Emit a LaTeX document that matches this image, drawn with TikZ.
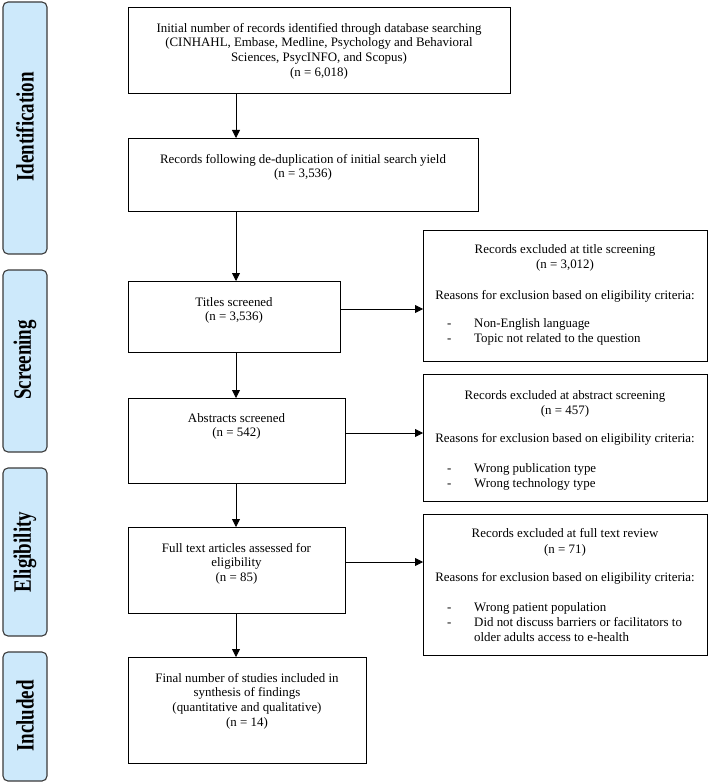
\documentclass[tikz,border=0pt]{standalone}
\usepackage{fontspec}
\setmainfont{Liberation Serif}
\usetikzlibrary{arrows.meta}
\definecolor{sideblue}{HTML}{CDE9FB}
\definecolor{sideedge}{HTML}{3A3A3A}
\begin{document}
\begin{tikzpicture}[x=1pt,y=-1pt,
  box/.style={draw=black, line width=0.9pt, fill=white, inner sep=0pt, anchor=north west},
  side/.style={draw=sideedge, line width=1.1pt, fill=sideblue, rounded corners=5pt},
  sidetxt/.style={inner sep=0pt, rotate=90, font=\fontsize{25}{25}\selectfont\bfseries},
  txt/.style={inner sep=0pt, align=center, anchor=north, font=\fontsize{12.9}{14.6}\selectfont},
  ctxt/.style={inner sep=0pt, anchor=base, font=\fontsize{12.9}{14.6}\selectfont},
  ltxt/.style={inner sep=0pt, anchor=base west, font=\fontsize{12.9}{14.6}\selectfont},
  arr/.style={-{Triangle[length=8pt,width=8pt]}, line width=0.8pt}]
\useasboundingbox (0,0) rectangle (709,783);

% side phase labels
\draw[side] (3,2) rectangle (47,254);
\draw[side] (3,270) rectangle (47,452);
\draw[side] (3,468) rectangle (47,636);
\draw[side] (3,652) rectangle (47,781);
\node[sidetxt] (sid) at (25,127) {\scalebox{0.76}[1]{Identification}};
\node[sidetxt] (sscr) at (25,360) {\scalebox{0.76}[1]{Screening}};
\node[sidetxt] (selg) at (25,552) {\scalebox{0.76}[1]{Eligibility}};
\node[sidetxt] (sinc) at (25,716) {\scalebox{0.76}[1]{Included}};

% main boxes
\node[box, minimum width=382pt, minimum height=86pt] (b1) at (128,7) {};
\node[box, minimum width=350pt, minimum height=73pt] (b2) at (128,138) {};
\node[box, minimum width=212pt, minimum height=71pt] (b3) at (128,281) {};
\node[box, minimum width=217pt, minimum height=85pt] (b4) at (128,398) {};
\node[box, minimum width=217pt, minimum height=86pt] (b5) at (128,527) {};
\node[box, minimum width=238pt, minimum height=106pt] (b6) at (128,657) {};
\node[box, minimum width=284pt, minimum height=131pt] (r1) at (423,230) {};
\node[box, minimum width=284pt, minimum height=127pt] (r2) at (423,374) {};
\node[box, minimum width=284pt, minimum height=141pt] (r3) at (423,514) {};

% main box texts
\node[txt] (t1) at (319,23) {Initial number of records identified through database searching\\(CINHAHL, Embase, Medline, Psychology and Behavioral\\Sciences, PsycINFO, and  Scopus)\\(n = 6,018)};
\node[txt] (t2) at (303,154) {Records following de-duplication of initial search yield\\(n = 3,536)};
\node[txt] (t3) at (234,297) {Titles screened\\(n = 3,536)};
\node[txt] (t4) at (236.5,413) {Abstracts screened\\(n = 542)};
\node[txt] (t5) at (236.5,543) {Full text articles assessed for\\eligibility\\(n = 85)};
\node[txt] (t6) at (247,673) {Final number of studies included in\\synthesis of findings\\(quantitative and qualitative)\\(n = 14)};

% right box 1
\node[ctxt] (r1a) at (565,254) {Records excluded at title screening};
\node[ctxt] (r1b) at (565,269) {(n = 3,012)};
\node[ctxt] (r1c) at (565,299) {Reasons for exclusion based on eligibility criteria:};
\node[ltxt] (r1d) at (447,327) {-};
\node[ltxt] (r1e) at (474,327) {Non-English language};
\node[ltxt] (r1f) at (447,342) {-};
\node[ltxt] (r1g) at (474,342) {Topic not related to the question};

% right box 2
\node[ctxt] (r2a) at (565,399) {Records excluded at abstract screening};
\node[ctxt] (r2b) at (565,414) {(n = 457)};
\node[ctxt] (r2c) at (565,442) {Reasons for exclusion based on eligibility criteria:};
\node[ltxt] (r2d) at (447,472) {-};
\node[ltxt] (r2e) at (474,472) {Wrong publication type};
\node[ltxt] (r2f) at (447,487) {-};
\node[ltxt] (r2g) at (474,487) {Wrong technology type};

% right box 3
\node[ctxt] (r3a) at (565,537) {Records excluded at full text review};
\node[ctxt] (r3b) at (565,553) {(n = 71)};
\node[ctxt] (r3c) at (565,581) {Reasons for exclusion based on eligibility criteria:};
\node[ltxt] (r3d) at (447,611) {-};
\node[ltxt] (r3e) at (474,611) {Wrong patient population};
\node[ltxt] (r3f) at (447,626) {-};
\node[ltxt] (r3g) at (474,626) {Did not discuss barriers or facilitators to};
\node[ltxt] (r3h) at (474,641) {older adults access to e-health};

% connectors
\coordinate (ax) at (236,0);
\coordinate (ay1) at (0,309);
\coordinate (ay2) at (0,433);
\coordinate (ay3) at (0,562);
\draw[arr] (b1.south -| ax) -- (b2.north -| ax);
\draw[arr] (b2.south -| ax) -- (b3.north -| ax);
\draw[arr] (b3.south -| ax) -- (b4.north -| ax);
\draw[arr] (b4.south -| ax) -- (b5.north -| ax);
\draw[arr] (b5.south -| ax) -- (b6.north -| ax);
\draw[arr] (b3.east |- ay1) -- (r1.west |- ay1);
\draw[arr] (b4.east |- ay2) -- (r2.west |- ay2);
\draw[arr] (b5.east |- ay3) -- (r3.west |- ay3);
\end{tikzpicture}
\end{document}
